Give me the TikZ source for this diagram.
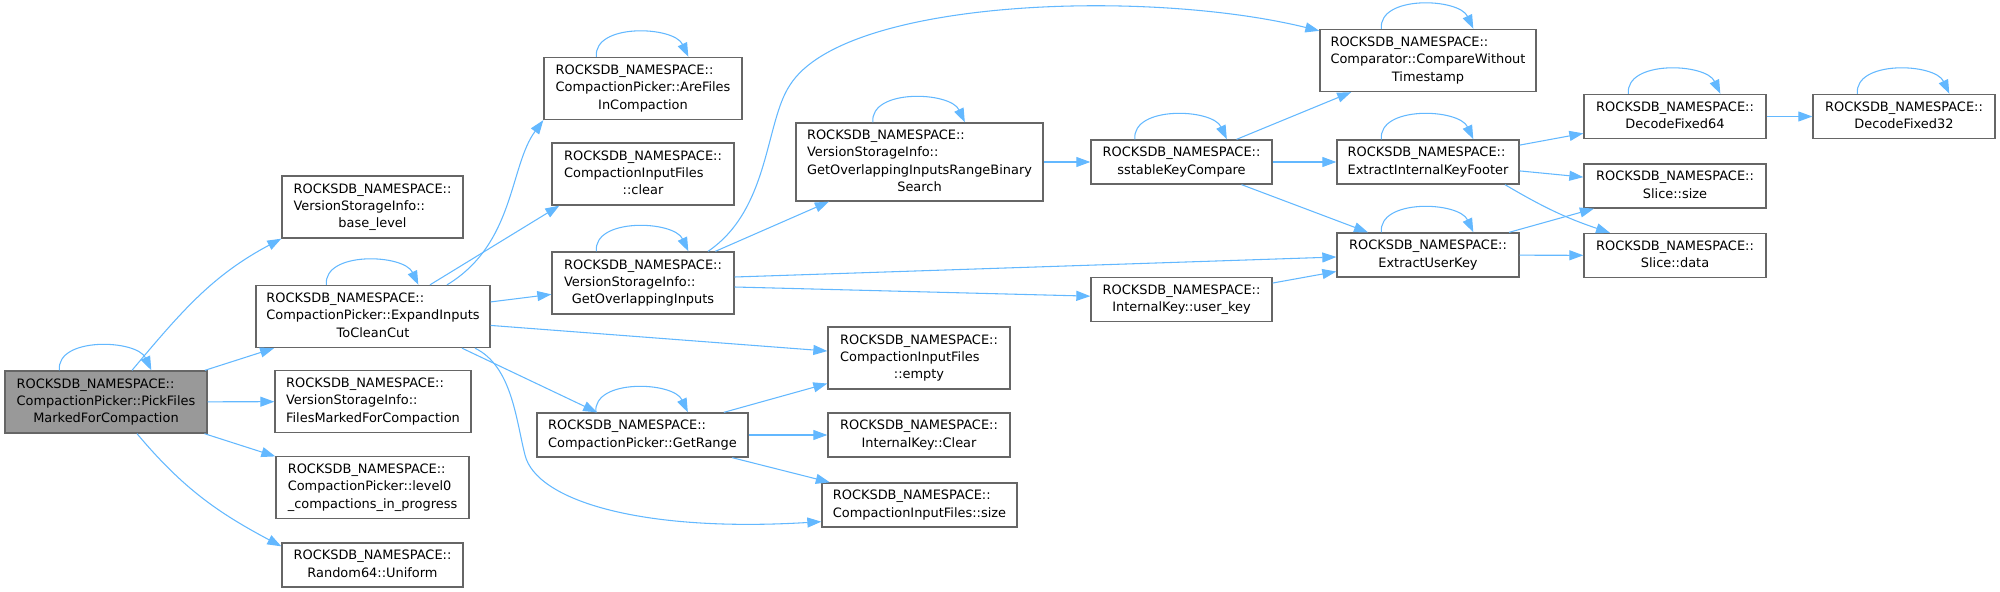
\documentclass[tikz,border=0pt]{standalone}
\usepackage{fontspec}
\setmainfont{DejaVu Sans}
\usetikzlibrary{arrows.meta}
\definecolor{edgeblue}{HTML}{63B8FF}
\definecolor{boxgray}{HTML}{666666}
\definecolor{rootgray}{HTML}{999999}
\newcommand{\fnlines}[1]{\begin{tabular}{@{}l@{}}#1\end{tabular}}
\newcommand{\lastln}[1]{\multicolumn{1}{@{}c@{}}{#1}}

\begin{document}
\begin{tikzpicture}[
    x=0.75pt, y=-0.75pt,
    font=\fontsize{9.7}{12.9}\selectfont,
    >={Triangle[length=10.5pt,width=7.5pt]},
    func/.style={rectangle, draw=boxgray, line width=1pt, fill=white, inner sep=2pt, minimum width=136.5pt, minimum height=33pt},
    root/.style={func, fill=rootgray},
    tall/.style={minimum height=46.5pt},
    arrow/.style={->, draw=edgeblue, line width=0.8pt}
]
    \useasboundingbox (0,0) rectangle (2000,592);

    % Root function
    \node (pick) [root, tall, minimum width=151.5pt] at (106,402) {\fnlines{ROCKSDB\_NAMESPACE::\\CompactionPicker::PickFiles\\\lastln{MarkedForCompaction}}};

    % First level callees
    \node (base_level) [func, tall, minimum width=135.75pt] at (372.5,207) {\fnlines{ROCKSDB\_NAMESPACE::\\VersionStorageInfo::\\\lastln{base\_level}}};
    \node (expand) [func, tall, minimum width=175.5pt] at (373,316.5) {\fnlines{ROCKSDB\_NAMESPACE::\\CompactionPicker::ExpandInputs\\\lastln{ToCleanCut}}};
    \node (files_marked) [func, tall, minimum width=147pt] at (373,401.5) {\fnlines{ROCKSDB\_NAMESPACE::\\VersionStorageInfo::\\\lastln{FilesMarkedForCompaction}}};
    \node (level0) [func, tall, minimum width=144.75pt] at (372.5,487.5) {\fnlines{ROCKSDB\_NAMESPACE::\\CompactionPicker::level0\\\lastln{\_compactions\_in\_progress}}};
    \node (random64) [func, minimum width=135.75pt] at (372.5,565) {\fnlines{ROCKSDB\_NAMESPACE::\\\lastln{Random64::Uniform}}};

    % Called from ExpandInputsToCleanCut
    \node (are_files) [func, tall, minimum width=148.5pt] at (643,88.5) {\fnlines{ROCKSDB\_NAMESPACE::\\CompactionPicker::AreFiles\\\lastln{InCompaction}}};
    \node (clear) [func, tall] at (643,174) {\fnlines{ROCKSDB\_NAMESPACE::\\CompactionInputFiles\\\lastln{::clear}}};
    \node (get_overlap) [func, tall] at (643,283) {\fnlines{ROCKSDB\_NAMESPACE::\\VersionStorageInfo::\\\lastln{GetOverlappingInputs}}};
    \node (get_range) [func, minimum width=158.25pt] at (642.5,435) {\fnlines{ROCKSDB\_NAMESPACE::\\\lastln{CompactionPicker::GetRange}}};

    % Third column
    \node (gorb) [func, minimum width=185.25pt, minimum height=58.5pt] at (919.5,162) {\fnlines{ROCKSDB\_NAMESPACE::\\VersionStorageInfo::\\GetOverlappingInputsRangeBinary\\\lastln{Search}}};
    \node (empty) [func, tall] at (919,358) {\fnlines{ROCKSDB\_NAMESPACE::\\CompactionInputFiles\\\lastln{::empty}}};
    \node (ik_clear) [func] at (919,435) {\fnlines{ROCKSDB\_NAMESPACE::\\\lastln{InternalKey::Clear}}};
    \node (cif_size) [func, minimum width=146.25pt] at (919.5,505) {\fnlines{ROCKSDB\_NAMESPACE::\\\lastln{CompactionInputFiles::size}}};

    % Key comparison
    \node (sstable) [func, minimum width=135.75pt] at (1181.5,162) {\fnlines{ROCKSDB\_NAMESPACE::\\\lastln{sstableKeyCompare}}};
    \node (user_key) [func, minimum width=135.75pt] at (1181.5,299.5) {\fnlines{ROCKSDB\_NAMESPACE::\\\lastln{InternalKey::user\_key}}};
    \node (compare_wo) [func, tall, minimum width=162pt] at (1428,60.5) {\fnlines{ROCKSDB\_NAMESPACE::\\Comparator::CompareWithout\\\lastln{Timestamp}}};
    \node (eikf) [func] at (1428,162) {\fnlines{ROCKSDB\_NAMESPACE::\\\lastln{ExtractInternalKeyFooter}}};
    \node (euk) [func] at (1428,255) {\fnlines{ROCKSDB\_NAMESPACE::\\\lastln{ExtractUserKey}}};

    % Decoding and slices
    \node (df64) [func] at (1675,116.5) {\fnlines{ROCKSDB\_NAMESPACE::\\\lastln{DecodeFixed64}}};
    \node (df32) [func] at (1904,116.5) {\fnlines{ROCKSDB\_NAMESPACE::\\\lastln{DecodeFixed32}}};
    \node (slice_size) [func] at (1675,186) {\fnlines{ROCKSDB\_NAMESPACE::\\\lastln{Slice::size}}};
    \node (slice_data) [func] at (1675,255.5) {\fnlines{ROCKSDB\_NAMESPACE::\\\lastln{Slice::data}}};

    % Recursive calls
    \foreach \n in {pick, expand, are_files, get_overlap, gorb, get_range, compare_wo, sstable, eikf, euk, df64, df32}
        \draw [arrow] ([xshift=-35pt]\n.north) to[out=95, in=115, looseness=0.95] ([xshift=34pt]\n.north);

    % PickFilesMarkedForCompaction calls
    \draw [arrow] ([xshift=19.5pt]pick.north) to[out=50, in=208] (base_level.south west);
    \draw [arrow] (pick) -- (expand);
    \draw [arrow] (pick) -- (files_marked);
    \draw [arrow] (pick) -- (level0);
    \draw [arrow] ([xshift=23.25pt]pick.south) to[out=-50, in=152] ([yshift=-3pt]random64.north west);

    % ExpandInputsToCleanCut calls
    \draw [arrow] ([xshift=55.5pt]expand.north) .. controls +(68,-41) and +(-34,46) .. (are_files.south west);
    \draw [arrow] ([xshift=42.75pt]expand.north) -- ([xshift=6pt]clear.south west);
    \draw [arrow] (expand) -- (get_overlap);
    \draw [arrow] (expand) -- (empty);
    \draw [arrow] ([xshift=66.75pt]expand.south) -- ([xshift=-34pt]get_range.north);
    \draw [arrow] ([xshift=76.5pt]expand.south) .. controls +(37,18) and +(-9,-35) .. (525,455)
        .. controls +(11,45) and +(-182,11) .. ([yshift=4.5pt]cif_size.south west);

    % GetOverlappingInputs calls
    \draw [arrow] ([xshift=48.75pt]get_overlap.north) .. controls +(62,-42) and +(-25,37) .. (790,85)
        .. controls +(55,-87) and +(-170,-42) .. ([yshift=-1.5pt]compare_wo.north west);
    \draw [arrow] (get_overlap) -- (gorb);
    \draw [arrow] ([yshift=4.5pt]get_overlap.east) -- ([yshift=-1.5pt]euk.west);
    \draw [arrow] ([yshift=-3pt]get_overlap.east) -- ([yshift=2.5pt]user_key.west);

    % GetRange calls
    \draw [arrow] (get_range) -- (empty);
    \draw [arrow] (get_range) -- (ik_clear);
    \draw [arrow] (get_range) -- (cif_size);

    % Key compare calls
    \draw [arrow] (gorb) -- (sstable);
    \draw [arrow] (sstable) -- (compare_wo);
    \draw [arrow] (sstable) -- (eikf);
    \draw [arrow] (sstable) -- (euk);
    \draw [arrow] (user_key) -- (euk);

    % Footer and user key calls
    \draw [arrow] (eikf) -- (df64);
    \draw [arrow] (eikf) -- (slice_size);
    \draw [arrow] ([xshift=57.75pt]eikf.south) to[bend right=6] ([xshift=-48.75pt]slice_data.north);
    \draw [arrow] (euk) -- (slice_size);
    \draw [arrow] (euk) -- (slice_data);
    \draw [arrow] (df64) -- (df32);

\end{tikzpicture}
\end{document}
